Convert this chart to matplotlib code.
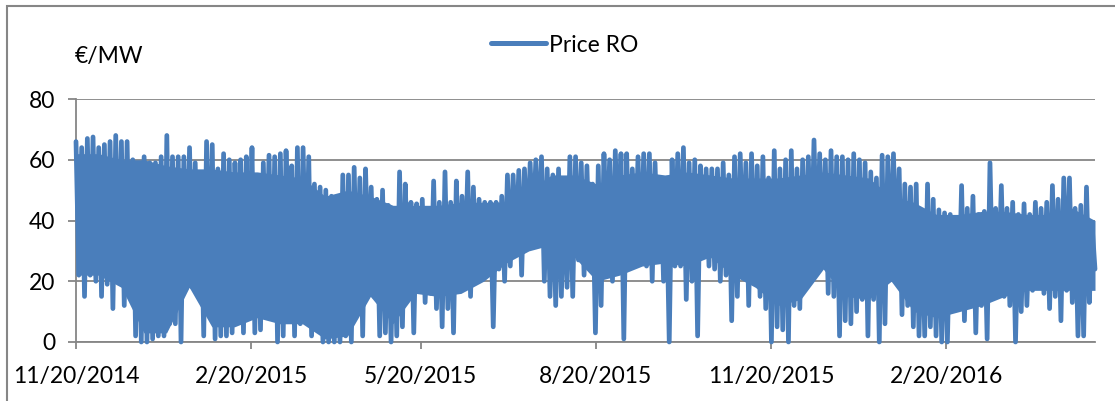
import numpy as np
import pandas as pd
import matplotlib
matplotlib.use("Agg")
import matplotlib.pyplot as plt
from matplotlib.patches import Rectangle

# ---- data (EUR/MW) ----
start_date = "2014-11-20"
end_date = "2016-05-08"

# 3-day peaks and troughs
highs = [66, 64, 67, 67.5, 64, 65, 66, 68, 66, 66, 60, 52, 61, 59, 59, 61, 68, 61, 61, 61,
         64, 59, 50, 66, 65, 57, 62, 60, 59, 60, 61, 64, 53, 59, 61.5, 61,
         62, 63, 58, 64, 64, 61, 52, 51, 50, 48, 40, 55, 55, 57.5, 54, 57, 51, 47, 50, 45,
         44, 56, 52, 46, 45.5, 47, 40, 53, 46, 56, 46, 53, 48, 56, 51, 47,
         46, 46, 46, 48, 55, 55, 56.5, 57, 59, 60, 61, 57, 55, 57, 52, 61, 61, 59, 58, 52,
         58, 62, 60, 63, 62, 62, 57, 61, 62, 62, 59, 54, 49, 60, 62, 64,
         59, 60, 58, 57, 57, 57, 59, 55, 61, 62, 59, 62, 58, 61, 54, 63, 57, 60, 63, 57,
         60, 61, 66.5, 62, 60, 63, 61, 61, 60, 62, 60, 59, 56, 54, 61.5, 61,
         62, 57, 52, 51, 52, 43, 52, 47, 43.5, 42.5, 42, 40, 51.5, 44, 48, 42, 43, 59, 44, 51.5,
         44, 46, 42, 45.5, 42, 46, 44, 46, 51.5, 47, 54, 54, 44, 45, 51, 38]

lows = [22, 15, 22, 20, 15, 19, 11, 20, 12, 18, 2, 0, 0, 1, 2, 2, 6, 6, 0, 18,
        18, 15, 2, 18, 1, 2, 2, 3, 24, 3, 24, 3, 4, 20, 11, 0,
        2, 26, 2, 6, 20, 2, 5, 0, 0, 0, 0, 2, 0, 15, 2, 22, 15, 2, 3, 0,
        2, 5, 21, 3, 19, 13, 16, 11, 5, 11, 3, 20, 21, 15, 20, 21,
        24, 5, 24, 20, 25, 30, 22, 32, 35, 33, 20, 15, 12, 15, 18, 15, 27, 22, 25, 3,
        12, 32, 20, 30, 1, 25, 27, 26, 25, 20, 27, 20, 0, 25, 25, 14,
        20, 2, 28, 25, 24, 20, 22, 7, 15, 27, 12, 20, 15, 11, 0, 5, 4, 0, 12, 11,
        22, 25, 26, 27, 16, 15, 2, 7, 6, 10, 14, 2, 14, 0, 6, 24,
        25, 9, 12, 5, 2, 2, 5, 2, 0, 0, 12, 14, 7, 12, 3, 12, 1, 15, 18, 15,
        12, 0, 10, 12, 17, 18, 16, 11, 15, 7, 17, 13, 2, 2, 13, 24]

# dense daily band (solid core of the trace), read about every 12 days
band_top = [62, 62, 60, 60, 58, 57, 57, 56, 56, 55, 54, 48, 50, 48, 45, 45, 45, 46, 46, 46,
            50, 55, 55, 52, 55, 56, 55, 56, 55, 54, 54, 54, 55, 56, 55, 54, 48, 46, 42, 42,
            43, 43, 42, 42, 44, 40]
band_bottom = [22, 22, 18, 3, 3, 18, 5, 5, 8, 6, 6, 1, 2, 15, 6, 16, 15, 16, 20, 26,
               30, 32, 28, 20, 22, 25, 26, 25, 28, 22, 18, 12, 14, 24, 15, 14, 20, 10, 8, 10,
               12, 15, 17, 17, 17, 17]

tick_dates = ["2014-11-20", "2015-02-20", "2015-05-20", "2015-08-20", "2015-11-20", "2016-02-20"]
tick_labels = ["11/20/2014", "2/20/2015", "5/20/2015", "8/20/2015", "11/20/2015", "2/20/2016"]
y_ticks = [0, 20, 40, 60, 80]
series_name = "Price RO"
unit_label = "€/MW"

# ---- build series (alternate peak / trough) ----
n = min(len(highs), len(lows))
prices = np.empty(2 * n)
prices[0::2] = highs[:n]
prices[1::2] = lows[:n]
times = pd.date_range(start_date, end_date, periods=2 * n)
band_times = pd.date_range(start_date, end_date, periods=len(band_top))

plt.rcParams['font.family'] = ['Lato', 'DejaVu Sans']
FS = 16.5
GRID = "#868686"
BLUE = "#4A7EBB"

W, H = 1115, 401
fig = plt.figure(figsize=(W / 100, H / 100), dpi=100)
ax = fig.add_axes([76 / W, 1 - 342 / H, (1095 - 76) / W, (342 - 99) / H])

ax.fill_between(band_times, band_bottom, band_top, color=BLUE, lw=0, zorder=3)
ax.plot(times, prices, color=BLUE, lw=3.4, solid_capstyle='round',
        solid_joinstyle='round', label=series_name, zorder=3, clip_on=False)

ax.set_xlim(pd.Timestamp(start_date), pd.Timestamp(end_date))
ax.set_ylim(0, 80)
ax.set_yticks(y_ticks)
ax.set_xticks(pd.to_datetime(tick_dates))
ax.set_xticklabels(tick_labels)

ax.yaxis.grid(True, color=GRID, lw=1.3)
ax.set_axisbelow(True)
for s in ["top", "right"]:
    ax.spines[s].set_visible(False)
for s in ["left", "bottom"]:
    ax.spines[s].set_color(GRID)
    ax.spines[s].set_linewidth(1.3)
ax.tick_params(axis='y', direction='out', length=6, width=1.3, color=GRID,
               labelsize=FS, pad=9, labelcolor='black')
ax.tick_params(axis='x', direction='out', length=5, width=1.3, color=GRID,
               labelsize=FS, pad=12, labelcolor='black')

fig.text(75 / W, 1 - 57 / H, unit_label, fontsize=FS, ha='left', va='center')

ax.legend(loc='center left', bbox_to_anchor=(491 / W, 1 - 45 / H),
          bbox_transform=fig.transFigure, frameon=False, fontsize=FS,
          handlelength=2.4, handletextpad=0.15, borderpad=0, borderaxespad=0)
leg = ax.get_legend()
for l in leg.get_lines():
    l.set_linewidth(3.6)
    l.set_solid_capstyle('round')

fig.add_artist(Rectangle((7 / W, -0.05), 1.2, 1 - 6 / H + 0.05,
                         transform=fig.transFigure, fill=False,
                         edgecolor=GRID, lw=1.5, clip_on=False))

fig.savefig("out.png", dpi=100)
